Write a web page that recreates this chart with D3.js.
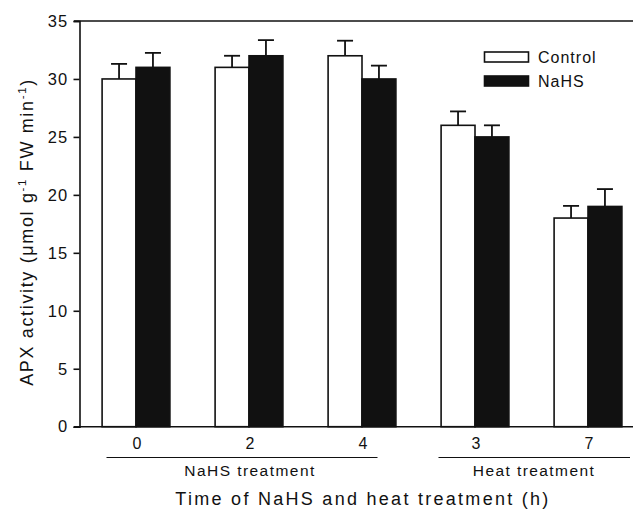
<!DOCTYPE html>
<html><head><meta charset="utf-8">
<script src="https://cdn.jsdelivr.net/npm/d3@7"></script>
<style>body{margin:0;background:#fff}svg{display:block}text{font-family:"Liberation Sans",Arial,sans-serif;fill:#111}</style>
</head><body><svg id="c" width="633" height="516"></svg>
<script>
const categories = ["0", "2", "4", "3", "7"];
const series = ["Control", "NaHS"];
const controlValues = [30, 31, 32, 26, 18];
const nahsValues = [31, 32, 30, 25, 19];
const controlErrors = [1.3, 1.0, 1.3, 1.2, 1.05];
const nahsErrors = [1.25, 1.35, 1.15, 1.0, 1.5];
const yTicks = [0, 5, 10, 15, 20, 25, 30, 35];
const groups = [{label: "NaHS treatment", from: 0, to: 2}, {label: "Heat treatment", from: 3, to: 4}];

const svg = d3.select("#c");
const ink = "#111";
const y = d3.scaleLinear().domain([0, 35]).range([426.7, 21]);
const x = d3.scaleBand().domain(categories.map((c, i) => i)).range([79.5, 644.5]).paddingInner(0.4).paddingOuter(0.2);
const xs = d3.scaleBand().domain(series).range([0, x.bandwidth()]);

function fit(sel, target) {
  const node = sel.node();
  const n = node.textContent.length;
  const L = node.getComputedTextLength();
  sel.attr("letter-spacing", ((target - L) / (n - 1)).toFixed(2));
}

const data = [];
categories.forEach((c, i) => {
  data.push({i, s: "Control", v: controlValues[i], e: controlErrors[i]});
  data.push({i, s: "NaHS", v: nahsValues[i], e: nahsErrors[i]});
});

// top frame line
svg.append("line").attr("x1", 74).attr("x2", 644).attr("y1", y(35)).attr("y2", y(35)).attr("stroke", ink).attr("stroke-width", 1.6);

// error bars
const eg = svg.append("g").attr("stroke", ink).attr("stroke-width", 1.8);
data.forEach(d => {
  const cx = x(d.i) + xs(d.s) + xs.bandwidth() / 2;
  eg.append("line").attr("x1", cx).attr("x2", cx).attr("y1", y(d.v)).attr("y2", y(d.v + d.e));
  eg.append("line").attr("x1", cx - 8).attr("x2", cx + 8).attr("y1", y(d.v + d.e)).attr("y2", y(d.v + d.e));
});

// bars
svg.append("g").selectAll("rect").data(data).join("rect")
  .attr("x", d => x(d.i) + xs(d.s))
  .attr("width", xs.bandwidth())
  .attr("y", d => y(d.v))
  .attr("height", d => y(0) - y(d.v))
  .attr("fill", d => d.s === "Control" ? "#fff" : ink)
  .attr("stroke", ink).attr("stroke-width", 1.6);

// y axis
const ya = svg.append("g").attr("transform", "translate(79.5,0)")
  .call(d3.axisLeft(y).tickValues(yTicks).tickSize(6).tickPadding(5));
ya.select(".domain").attr("stroke", ink).attr("stroke-width", 1.6);
ya.selectAll(".tick line").attr("stroke", ink).attr("stroke-width", 1.6);
ya.selectAll(".tick text").attr("font-size", 16.5).attr("letter-spacing", 1.2)
  .attr("font-family", "Liberation Sans, Arial, sans-serif").attr("fill", ink);

// bottom line
svg.append("line").attr("x1", 74).attr("x2", 644).attr("y1", y(0)).attr("y2", y(0)).attr("stroke", ink).attr("stroke-width", 1.6);

// x category labels
svg.append("g").selectAll("text").data(categories).join("text")
  .attr("x", (d, i) => x(i) + x.bandwidth() / 2 + 1)
  .attr("y", 449)
  .attr("text-anchor", "middle").attr("font-size", 16).text(d => d);

// group lines and labels
const gx = [[106.5, 377.5, 250, 130], [438.5, 630, 534, 121]];
groups.forEach((g, k) => {
  svg.append("line").attr("x1", gx[k][0]).attr("x2", gx[k][1]).attr("y1", 457.5).attr("y2", 457.5).attr("stroke", ink).attr("stroke-width", 1.2);
  const t = svg.append("text").attr("x", gx[k][2]).attr("y", 476).attr("text-anchor", "middle").attr("font-size", 15.5).text(g.label);
  fit(t, gx[k][3]);
});

// x title
const xt = svg.append("text").attr("x", 363).attr("y", 505).attr("text-anchor", "middle").attr("font-size", 18)
  .text("Time of NaHS and heat treatment (h)");
fit(xt, 373);

// y title
const yt = svg.append("text").attr("transform", "translate(33,232) rotate(-90)").attr("text-anchor", "middle").attr("font-size", 18);
yt.append("tspan").text("APX activity (\u03bcmol g");
yt.append("tspan").attr("font-size", 11.5).attr("dy", -7).text("-1");
yt.append("tspan").attr("dy", 7).text(" FW min");
yt.append("tspan").attr("font-size", 11.5).attr("dy", -7).text("-1");
yt.append("tspan").attr("dy", 7).text(")");
fit(yt, 306);

// legend
const lg = svg.append("g");
series.forEach((s, k) => {
  lg.append("rect").attr("x", 484.5).attr("y", 52 + k * 24).attr("width", 44).attr("height", 10)
    .attr("fill", s === "Control" ? "#fff" : ink).attr("stroke", ink).attr("stroke-width", 1.6);
  lg.append("text").attr("x", 538).attr("y", 63 + k * 24).attr("font-size", 16).attr("letter-spacing", 1).text(s);
});
</script></body></html>
